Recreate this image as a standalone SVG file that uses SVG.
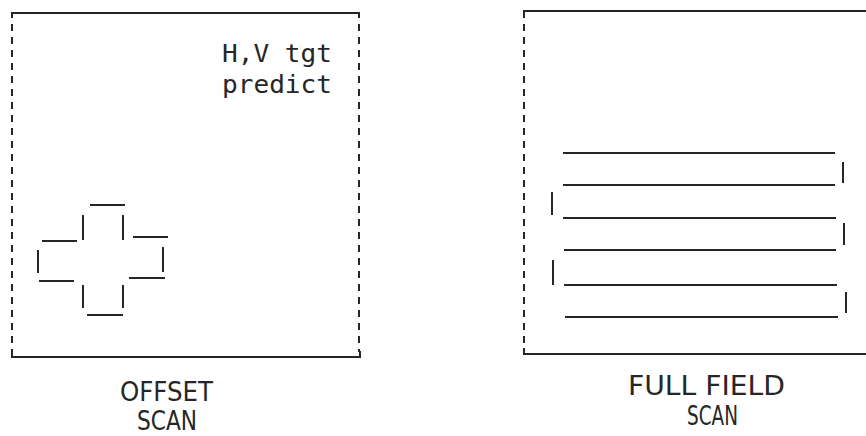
<svg xmlns="http://www.w3.org/2000/svg" width="866" height="436" viewBox="0 0 866 436">
<style>
.s{stroke:#262626;stroke-width:2;fill:none;stroke-linecap:butt}
.d{stroke:#262626;stroke-width:2;fill:none;stroke-dasharray:7 6}
.t{font-family:"DejaVu Sans","Liberation Sans",sans-serif;font-size:27px;fill:#262626}
.m{font-family:"DejaVu Sans Mono","Liberation Mono",monospace;font-size:25px;fill:#262626}
</style>
<rect width="866" height="436" fill="#fff"/>
<g id="offset-scan">
  <path class="s" d="M12 18 V13 H359 V18"/>
  <path class="d" d="M12 24 V352"/>
  <path class="d" d="M359 24 V352"/>
  <path class="s" d="M12 351 V357 H360 V351"/>
  <text class="m" x="222" y="62" textLength="110" lengthAdjust="spacingAndGlyphs">H,V tgt</text>
  <text class="m" x="222" y="93" textLength="110" lengthAdjust="spacingAndGlyphs">predict</text>
  <g id="cross">
    <path class="s" d="M90 205 H125"/>
    <path class="s" d="M83 215 V240 M123 215 V240"/>
    <path class="s" d="M42 241 H77 M133 237 H168"/>
    <path class="s" d="M38 250 V273 M163 247 V272"/>
    <path class="s" d="M39 281 H74 M129 278 H165"/>
    <path class="s" d="M83 285 V308 M123 285 V308"/>
    <path class="s" d="M87 315 H123"/>
  </g>
  <text class="t" x="120" y="401" textLength="93" lengthAdjust="spacingAndGlyphs">OFFSET</text>
  <text class="t" x="137" y="430" textLength="60" lengthAdjust="spacingAndGlyphs">SCAN</text>
</g>
<g id="full-field-scan">
  <path class="s" d="M524 18 V11 H866"/>
  <path class="d" d="M524 24 V348"/>
  <path class="s" d="M524 348 V354 H866"/>
  <g id="raster">
    <path class="s" d="M563 153 H835 M563 185 H835 M563 218 H836 M564 250 H836 M564 285 H837 M565 317 H838"/>
    <path class="s" d="M843 162 V183 M844 223 V245 M846 292 V313"/>
    <path class="s" d="M552 192 V215 M553 260 V285"/>
  </g>
  <text class="t" x="628" y="395" textLength="157" lengthAdjust="spacingAndGlyphs">FULL FIELD</text>
  <text class="t" x="687" y="425" textLength="51" lengthAdjust="spacingAndGlyphs">SCAN</text>
</g>
</svg>
